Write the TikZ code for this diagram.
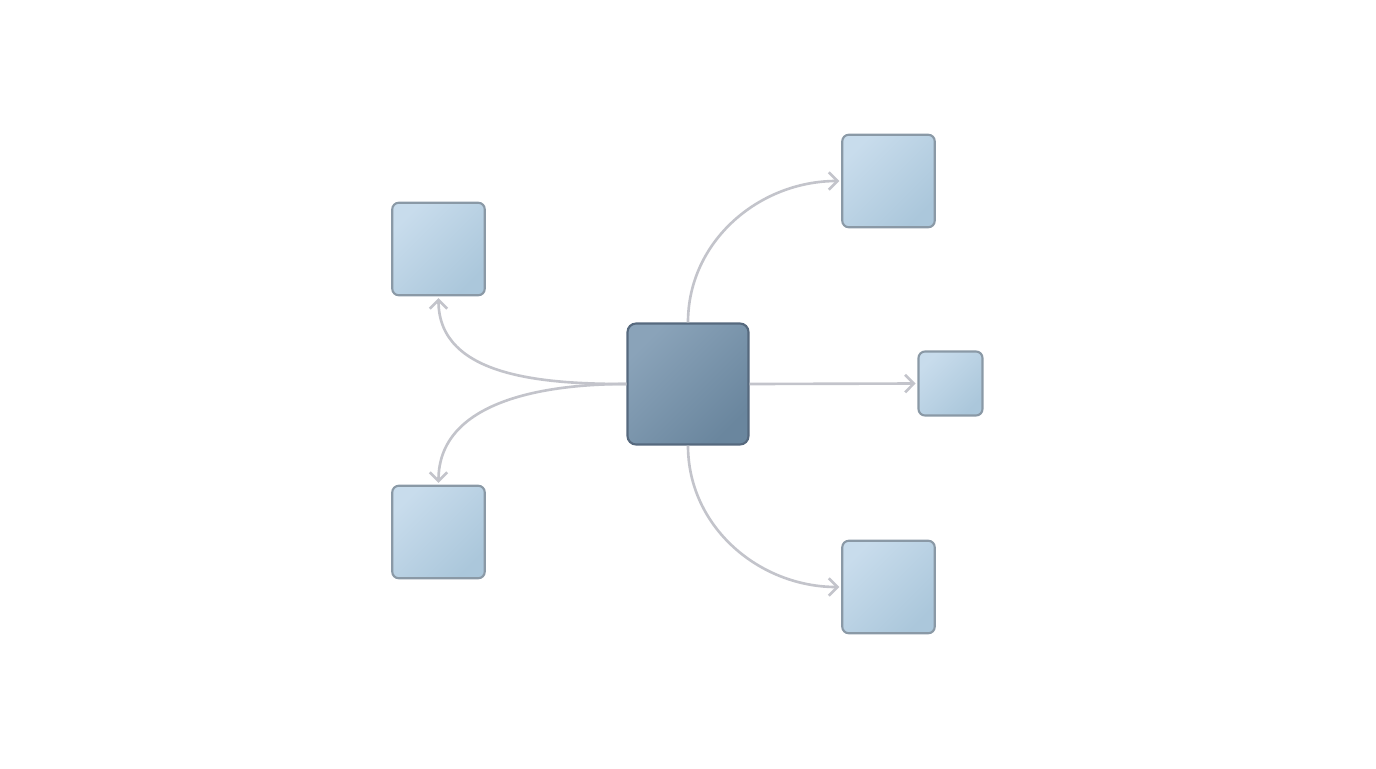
\documentclass[tikz,border=0pt]{standalone}
\usepackage{xcolor}
\usetikzlibrary{arrows, arrows.meta}
\usetikzlibrary{positioning}
\definecolor{hubA}{HTML}{8AA3B9}
\definecolor{hubB}{HTML}{6A869E}
\definecolor{hubline}{HTML}{56697E}
\definecolor{leafA}{HTML}{C8DCEC}
\definecolor{leafB}{HTML}{ABC7DB}
\definecolor{leafline}{HTML}{8A99A6}
\definecolor{linkgray}{HTML}{C3C4CB}
\begin{document}
\begin{tikzpicture}[x=0.02cm,y=-0.02cm,
		hub/.style={draw=hubline, line width=1.2pt, rounded corners=0.17cm, minimum size=2.42cm,
			left color=hubA, right color=hubB, shading angle=45},
		leaf/.style={draw=leafline, line width=1.2pt, rounded corners=0.13cm, minimum size=1.85cm,
			left color=leafA, right color=leafB, shading angle=45},
		link/.style={draw=linkgray, line width=1.5pt, -{Straight Barb[length=5pt,width=10pt]}, shorten >=1pt}]
				
				\useasboundingbox (0,0) rectangle (1376,768);
				
				% Central node
				\node[hub] (hub) at (688,384) {};
				
				% Leaves
				\node[leaf] (nw) at (438.5,249) {};
				\node[leaf] (sw) at (438.5,532) {};
				\node[leaf] (ne) at (888.5,181) {};
				\node[leaf] (se) at (888.5,587) {};
				\node[leaf, minimum size=1.28cm] (east) at (950.5,383.5) {};
				
				% Links
				\draw[link] (hub.west) to[out=180,in=-90] (nw.south);
				\draw[link] (hub.west) to[out=180,in=90] (sw.north);
				\draw[link] (hub.north) to[out=90,in=180] (ne.west);
				\draw[link] (hub.south) to[out=-90,in=180] (se.west);
				\draw[link] (hub.east) -- (east.west);
				
			\end{tikzpicture}
\end{document}
